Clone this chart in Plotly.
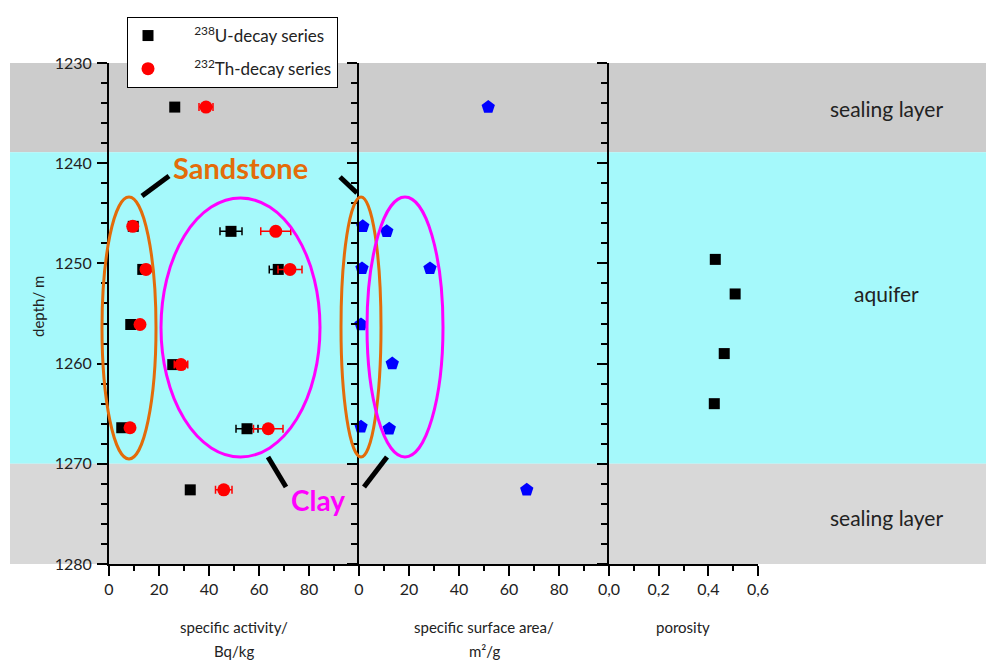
import plotly.graph_objects as go

# ---------------- data ----------------
u_depth = [1234.4, 1246.3, 1246.8, 1250.6, 1250.6, 1256.1, 1260.1, 1266.4, 1266.5, 1272.6]
u_act = [26.3, 9.7, 48.8, 13.5, 67.7, 8.7, 25.5, 5.1, 55.2, 32.5]
u_err = [1.5, 1.5, 4.4, 1.2, 3.6, 1.0, 1.5, 1.0, 4.4, 1.5]

th_depth = [1234.4, 1246.3, 1246.8, 1250.6, 1250.6, 1256.1, 1260.1, 1266.4, 1266.5, 1272.6]
th_act = [38.8, 9.5, 66.7, 14.8, 72.4, 12.4, 28.8, 8.4, 63.7, 45.9]
th_err = [2.8, 1.5, 6.0, 1.5, 4.8, 1.0, 2.7, 1.5, 5.9, 3.3]

ssa_depth = [1234.4, 1246.3, 1246.8, 1250.5, 1250.5, 1256.1, 1260.0, 1266.3, 1266.5, 1272.6]
ssa_val = [51.7, 1.5, 11.1, 1.2, 28.4, 0.8, 13.3, 0.8, 12.1, 67.1]

por_depth = [1249.6, 1253.05, 1259.0, 1264.0]
por_val = [0.428, 0.508, 0.464, 0.424]

layer_names = ["sealing layer", "aquifer", "sealing layer"]
layer_bounds = [(1230, 1238.9), (1238.9, 1270), (1270, 1280)]

depth_ticks = [1230, 1240, 1250, 1260, 1270, 1280]
act_ticks = [0, 20, 40, 60, 80]
act_ticktext = ["0", "20", "40", "60", "80"]
por_ticks = [0.0, 0.2, 0.4, 0.6]
por_ticktext = ["0,0", "0,2", "0,4", "0,6"]

# ---------------- figure ----------------
OFF = 8  # page body margin in the browser
W, H = 994 - OFF, 662 - OFF
L, R, T, B = 109 - OFF, 236, 63 - OFF, 98
PW, PH = W - L - R, H - T - B
FONT = "Lato, Open Sans, sans-serif"

def px(xp):
    return (xp - OFF - L) / PW

def py(yp):
    return (H - B - (yp - OFF)) / PH

fig = go.Figure()

SP = "&nbsp;" * 6
fig.add_trace(go.Scatter(
    x=u_act, y=u_depth, mode="markers", name=SP + "<sup>238</sup>U-decay series",
    legendgroup="u",
    marker=dict(symbol="square", size=11, color="black"),
    error_x=dict(type="data", array=u_err, color="black", thickness=1.5, width=4),
    xaxis="x", yaxis="y", cliponaxis=False))
fig.add_trace(go.Scatter(
    x=th_act, y=th_depth, mode="markers", name=SP + "<sup>232</sup>Th-decay series",
    legendgroup="th",
    marker=dict(symbol="circle", size=13, color="red"),
    error_x=dict(type="data", array=th_err, color="red", thickness=1.5, width=4),
    xaxis="x", yaxis="y", cliponaxis=False))
fig.add_trace(go.Scatter(
    x=ssa_val, y=ssa_depth, mode="markers", showlegend=False,
    marker=dict(symbol="pentagon", size=14, color="blue"),
    xaxis="x2", yaxis="y2", cliponaxis=False))
fig.add_trace(go.Scatter(
    x=por_val, y=por_depth, mode="markers", showlegend=False,
    marker=dict(symbol="square", size=11, color="black"),
    xaxis="x3", yaxis="y3", cliponaxis=False))

shapes = []
band_colors = ["#CCCCCC", "#A5F9FB", "#D8D8D8"]
for (d0, d1), c in zip(layer_bounds, band_colors):
    shapes.append(dict(type="rect", xref="paper", yref="y", x0=px(10), x1=px(1000),
                       y0=d0, y1=d1, fillcolor=c, line=dict(width=0), layer="below"))

ORANGE = "#E36C0A"
MAGENTA = "#FF00FF"
ellipses = [
    (102, 156, 197, 459, ORANGE),
    (161, 320, 198, 457, MAGENTA),
    (341, 381, 197, 457, ORANGE),
    (367, 443, 197, 457, MAGENTA),
]
for x0, x1, y0, y1, c in ellipses:
    shapes.append(dict(type="circle", xref="paper", yref="paper",
                       x0=px(x0), x1=px(x1), y0=py(y0), y1=py(y1),
                       line=dict(color=c, width=3), layer="above"))
segments = [
    (142, 196, 169, 176),
    (340, 177, 357, 193),
    (268, 457, 286, 487),
    (387, 457, 364, 487),
]
for x0, y0, x1, y1 in segments:
    shapes.append(dict(type="line", xref="paper", yref="paper",
                       x0=px(x0), x1=px(x1), y0=py(y0), y1=py(y1),
                       line=dict(color="black", width=5), layer="above"))

annotations = []
def ann(text, x, y, size, color="#222", bold=False, angle=0):
    t = f"<b>{text}</b>" if bold else text
    annotations.append(dict(text=t, xref="paper", yref="paper", x=px(x), y=py(y),
                            xanchor="center", yanchor="middle", showarrow=False,
                            textangle=angle, font=dict(family=FONT, size=size, color=color)))

ann("Sandstone", 240, 167, 29, ORANGE, bold=True)
ann("Clay", 318, 500, 28, MAGENTA, bold=True)
ann(layer_names[0], 886, 108, 21)
ann(layer_names[1], 886, 293, 21)
ann(layer_names[2], 886, 517, 21)
ann("depth/ m", 38, 307, 15, angle=-90)
ann("specific activity/", 234, 627, 15)
ann("Bq/kg", 234, 651, 15)
ann("specific surface area/", 484, 627, 15)
ann("m²/g", 484, 651, 15)
ann("porosity", 683, 627, 15)

xcommon = dict(showline=True, linecolor="black", linewidth=2, ticks="outside",
               ticklen=10, tickwidth=2, tickcolor="black", showgrid=False, zeroline=False,
               tickfont=dict(family=FONT, size=16, color="#222"))
ycommon = dict(showline=True, linecolor="black", linewidth=2, ticks="outside",
               ticklen=10, tickwidth=2, tickcolor="black", showgrid=False, zeroline=False,
               range=[1280, 1230], tickvals=depth_ticks,
               minor=dict(dtick=2, ticklen=6, tickwidth=2, tickcolor="black", ticks="outside"),
               tickfont=dict(family=FONT, size=16, color="#222"))

d1 = 250 / PW
d2 = 500 / PW
fig.update_layout(
    width=W, height=H,
    margin=dict(l=L, r=R, t=T, b=B, autoexpand=False),
    paper_bgcolor="white", plot_bgcolor="rgba(0,0,0,0)",
    font=dict(family=FONT, color="#222"),
    xaxis=dict(domain=[0, d1], range=[0, 100], tickvals=act_ticks, ticktext=act_ticktext,
               minor=dict(tickvals=[10, 30, 50, 70, 90], ticklen=5, tickwidth=2,
                          tickcolor="black", ticks="outside"),
               anchor="y", **xcommon),
    xaxis2=dict(domain=[d1, d2], range=[0, 100], tickvals=act_ticks, ticktext=act_ticktext,
                minor=dict(tickvals=[10, 30, 50, 70, 90], ticklen=5, tickwidth=2,
                           tickcolor="black", ticks="outside"),
                anchor="y2", **xcommon),
    xaxis3=dict(domain=[d2, 1], range=[0, 0.6], tickvals=por_ticks, ticktext=por_ticktext,
                minor=dict(tickvals=[0.1, 0.3, 0.5], ticklen=5, tickwidth=2,
                           tickcolor="black", ticks="outside"),
                anchor="y3", **xcommon),
    yaxis=dict(anchor="x", ticklabelstandoff=2, **ycommon),
    yaxis2=dict(anchor="x2", showticklabels=False, **ycommon),
    yaxis3=dict(anchor="x3", showticklabels=False, **ycommon),
    shapes=shapes,
    annotations=annotations,
    legend=dict(x=px(127), y=py(17), xanchor="left", yanchor="top",
                bgcolor="white", bordercolor="black", borderwidth=1,
                font=dict(family=FONT, size=17, color="#222"),
                itemwidth=30, tracegroupgap=8),
    showlegend=True,
)

fig.write_html("out.html")
